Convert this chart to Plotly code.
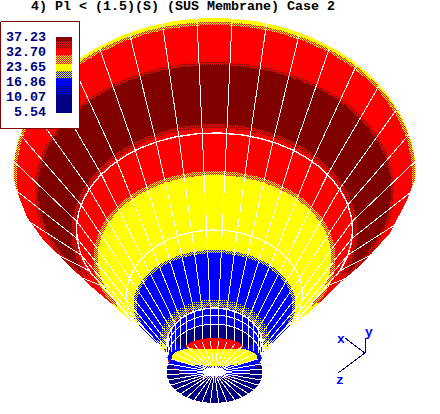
import numpy as np
import plotly.graph_objects as go

MAROON = "#800000"
RED = "#ff0000"
YELLOW = "#ffff00"
BLUE = "#0000ff"
NAVY = "#000080"

title_text = "4) Pl < (1.5)(S) (SUS Membrane) Case 2"
legend_labels = ["37.23", "32.70", "23.65", "16.86", "10.07", "5.54"]

# colour bar (solid part of each colour, rest is dither)
cbar_colors = [MAROON, RED, YELLOW, BLUE, NAVY]
cbar_solid_start = [37, 49, 64, 78, 95]
cbar_solid_end = [41, 55, 71, 85, 113]

# colour bands of the funnel, outer to inner (projected ellipses)
band_colors = [YELLOW, RED, MAROON, RED, YELLOW, BLUE]
band_cy = [175, 175, 190, 232, 258, 305]
band_rx = [201.5, 198, 177, 139, 117, 78]
band_ry = [157, 150, 125, 104, 83, 52]
band_fringe = [0, 3, 3, 4, 4, 3]

# white mesh stations: rim, two latitude lines, neck
mesh_cy = [175, 230, 295, 345]
mesh_rx = [201.5, 138, 88, 48]
mesh_ry = [157, 97, 65, 37]

# outline of the funnel below the rim
outline_left_x = [13, 17, 27, 42, 63, 93, 113, 133, 147, 167]
outline_left_y = [175, 192, 217, 238, 260, 288, 305, 323, 337, 352]
outline_right_x = [416, 407, 390, 363, 335, 315, 287, 263]
outline_right_y = [177, 200, 233, 263, 287, 307, 333, 352]

# neck wall latitude lines
wall_cy = [345, 352, 361]

CX = 214.5


def ellipse_xy(cy, rx, ry, cx=CX, a0=-180, a1=180, n=181):
    # angle 0 is the top of the ellipse
    t = np.radians(np.linspace(a0, a1, n))
    return cx + rx * np.sin(t), cy - ry * np.cos(t)


def fill_trace(x, y, color):
    return go.Scatter(x=list(x), y=list(y), mode="lines", fill="toself", fillcolor=color,
                      line=dict(width=0, color=color), hoverinfo="skip")


def line_trace(x, y, color="white", width=1.0, dash=None):
    return go.Scatter(x=list(x), y=list(y), mode="lines",
                      line=dict(width=width, color=color, dash=dash), hoverinfo="skip")


def pixels_trace(px, py, color):
    # one path of single pixel squares
    x, y = [], []
    for a, b in zip(px.tolist(), py.tolist()):
        x += [a, a + 1, a + 1, a, a, None]
        y += [b, b, b + 1, b + 1, b, None]
    return fill_trace(x, y, color)


def ring_dither(cy, rx, ry, grow, color, cx=CX, max_y=414, sparse=False):
    # checkerboard of pixels just outside an ellipse
    px, py = np.meshgrid(np.arange(440), np.arange(414))
    outer = ((px + 0.5 - cx) / (rx + grow)) ** 2 + ((py + 0.5 - cy) / (ry + grow)) ** 2 < 1
    inner = ((px + 0.5 - cx) / rx) ** 2 + ((py + 0.5 - cy) / ry) ** 2 < 1
    keep = outer & ~inner & ((px + py) % 2 == 0) & (py < max_y)
    if sparse:
        keep = keep & (py % 2 == 0)
    return pixels_trace(px[keep], py[keep], color)


def lens_xy(half, edge_y, top_y, bottom_y):
    up_x, up_y = ellipse_xy(edge_y, half, edge_y - top_y, a0=-90, a1=90, n=61)
    lo_x, lo_y = ellipse_xy(edge_y, half, bottom_y - edge_y, a0=90, a1=270, n=61)
    return np.r_[up_x, lo_x], np.r_[up_y, lo_y]


fig = go.Figure()

# funnel colour bands
for color, cy, rx, ry, grow in zip(band_colors, band_cy, band_rx, band_ry, band_fringe):
    if grow:
        fig.add_trace(ring_dither(cy, rx, ry, grow, color))
    x, y = ellipse_xy(cy, rx, ry)
    fig.add_trace(fill_trace(x, y, color))

# meridians at 10 degree steps
angles = np.arange(-125, 126, 10)
for a in angles:
    t = np.radians(a)
    mx = [CX + rx * np.sin(t) for rx in mesh_rx]
    my = [cy - ry * np.cos(t) for cy, ry in zip(mesh_cy, mesh_ry)]
    fig.add_trace(line_trace(mx, my))

# two latitude lines
x, y = ellipse_xy(mesh_cy[1], mesh_rx[1], mesh_ry[1], a0=-118, a1=118)
fig.add_trace(line_trace(x, y, width=1.4))
x, y = ellipse_xy(mesh_cy[2], mesh_rx[2], mesh_ry[2], a0=-112, a1=112)
fig.add_trace(line_trace(x, y, width=1.2))

# white outside of the outline hides what sticks out below the rim
fig.add_trace(fill_trace(outline_left_x + [167, 0, 0], outline_left_y + [414, 414, 175], "white"))
fig.add_trace(fill_trace(outline_right_x + [263, 440, 440], outline_right_y + [414, 414, 177], "white"))

# neck: yellow fringe, wall, grid
fig.add_trace(ring_dither(342, 48, 35, 8, YELLOW, max_y=350, sparse=True))
fig.add_trace(ring_dither(343, 48, 36, 4, YELLOW, max_y=350))
x, y = ellipse_xy(345, 48, 37)
fig.add_trace(fill_trace(x, y, BLUE))
x, y = lens_xy(40, 342, 325, 350)
fig.add_trace(fill_trace(x, y, NAVY))
for a in np.arange(-85, 86, 10):
    t = np.radians(a)
    wx = CX + 48 * np.sin(t)
    fig.add_trace(line_trace([wx, wx], [345 - 37 * np.cos(t), 372 - 31 * np.cos(t)], width=1))
for cy in wall_cy:
    x, y = ellipse_xy(cy, 48, 37, a0=-90, a1=90)
    fig.add_trace(line_trace(x, y, width=1))
x, y = ellipse_xy(345, 50, 39, a0=-100, a1=100)
fig.add_trace(line_trace(x, y, color=RED, width=1, dash="3px,14px"))
x, y = ellipse_xy(345, 48, 37, a0=-90, a1=90)
fig.add_trace(line_trace(x, y, width=1.5))

# neck bottom: navy plate with nested lenses
x, y = ellipse_xy(372, 48, 31)
fig.add_trace(fill_trace(x, y, NAVY))
x, y = lens_xy(47, 357, 345, 378)
fig.add_trace(fill_trace(x, y, BLUE))
fig.add_trace(line_trace(x[61:], y[61:], color=RED, width=1, dash="2px,3px"))
x, y = lens_xy(43, 357, 346, 366)
fig.add_trace(fill_trace(x, y, YELLOW))
x, y = lens_xy(29, 348, 338, 349)
fig.add_trace(fill_trace(x, y, RED))
for a in np.arange(-175, 176, 10):
    t = np.radians(a)
    fig.add_trace(line_trace([CX, CX + 48 * np.sin(t)], [372, 372 - 31 * np.cos(t)], width=1))
x, y = ellipse_xy(371, 9, 3)
fig.add_trace(fill_trace(x, y, "white"))

# axis triad
triad_x = [345, 365, 365, 365, 338]
triad_y = [338, 353, 338, 353, 373]
fig.add_trace(line_trace(triad_x, triad_y, color=NAVY, width=1))
fig.add_trace(go.Scatter(x=[341, 369, 340], y=[340, 333, 381], mode="text", text=["x", "y", "z"],
                         textfont=dict(family="Liberation Mono", size=13, color=BLUE, weight="bold"),
                         hoverinfo="skip"))

# legend box and colour bar
fig.add_trace(go.Scatter(x=[0.5, 79, 79, 0.5, 0.5], y=[21.5, 21.5, 128, 128, 21.5], mode="lines",
                         fill="toself", fillcolor="white", line=dict(width=1, color=MAROON),
                         hoverinfo="skip"))
for i, color in enumerate(cbar_colors):
    top = cbar_solid_start[i]
    bottom = cbar_solid_start[i + 1] if i + 1 < len(cbar_colors) else cbar_solid_end[i]
    fig.add_trace(fill_trace([56, 72, 72, 56], [top, top, bottom, bottom], color))
    if i + 1 < len(cbar_colors):
        px, py = np.meshgrid(np.arange(56, 72), np.arange(cbar_solid_end[i], bottom))
        keep = (px + py) % 2 == 0
        fig.add_trace(pixels_trace(px[keep], py[keep], cbar_colors[i + 1]))

for i, label in enumerate(legend_labels):
    fig.add_annotation(x=48, y=37 + i * 15, text=label, showarrow=False, xanchor="right",
                       yanchor="middle", xref="x", yref="y",
                       font=dict(family="Liberation Mono", size=13.33, color=NAVY, weight="bold"))

fig.update_layout(
    title=dict(text=title_text, x=31 / 440, y=1 - 5 / 414, xanchor="left", yanchor="middle",
               font=dict(family="Liberation Mono", size=13.33, color="black", weight="bold")),
    width=440, height=414, showlegend=False, hovermode=False,
    margin=dict(l=0, r=0, t=0, b=0),
    paper_bgcolor="white", plot_bgcolor="white",
    xaxis=dict(range=[0, 440], visible=False),
    yaxis=dict(range=[414, 0], visible=False),
)

# hard edges like the original bitmap, and no page margin
post = ("document.body.style.margin='0';"
        "document.querySelectorAll('.plotly path').forEach(p=>p.style.shapeRendering='crispEdges');")
fig.write_html("out.html", post_script=post, config=dict(displayModeBar=False))
